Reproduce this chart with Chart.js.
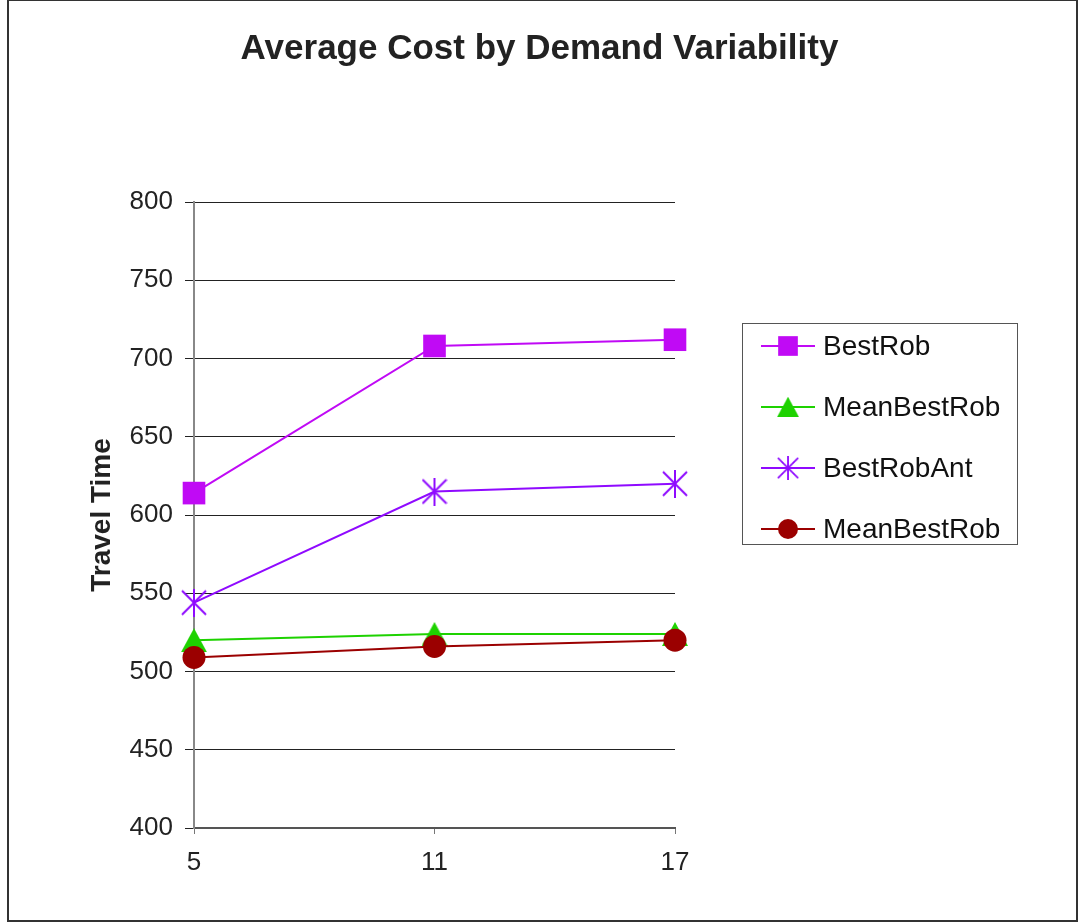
<!DOCTYPE html>
<html>
<head>
<meta charset="utf-8">
<script src="https://cdn.jsdelivr.net/npm/chart.js@4.4.1/dist/chart.umd.min.js"></script>
<style>
  html, body { margin: 0; padding: 0; background: #fff; }
  #wrap { position: relative; width: 1079px; height: 924px; }
  canvas { display: block; }
</style>
</head>
<body>
<div id="wrap"><canvas id="chart" width="1079" height="924"></canvas></div>
<script>
// Demand variability levels (x categories)
const categories = ['5', '11', '17'];

// Series names
const seriesNames = ['BestRob', 'MeanBestRob', 'BestRobAnt', 'MeanBestRob'];

// Average travel time per series
const bestRob          = [614, 708, 712];
const meanBestRobGreen = [520, 524, 524];
const bestRobAnt       = [544, 615, 620];
const meanBestRobRed   = [509, 516, 520];

// Value axis ticks
const yMin = 400;
const yMax = 800;
const yStep = 50;

const FONT = '"Liberation Sans", Arial, Helvetica, sans-serif';

const COLORS = {
  bestRob: '#C00AF5',
  meanGreen: '#1ED200',
  bestRobAnt: '#8F0AFF',
  meanRed: '#9B0000'
};

// Asterisk marker: two diagonals plus a vertical stroke
function makeStar(color, w, h, lw) {
  const c = document.createElement('canvas');
  c.width = w; c.height = h;
  const g = c.getContext('2d');
  g.strokeStyle = color;
  g.lineWidth = lw;
  const dy = (h - w) / 2;
  g.beginPath();
  g.moveTo(1, dy + 1); g.lineTo(w - 1, h - dy - 1);
  g.moveTo(w - 1, dy + 1); g.lineTo(1, h - dy - 1);
  g.moveTo(w / 2, 0); g.lineTo(w / 2, h);
  g.stroke();
  return c;
}

// Triangle marker centred on its bounding box
function makeTriangle(color, w, h) {
  const c = document.createElement('canvas');
  c.width = w; c.height = h;
  const g = c.getContext('2d');
  g.fillStyle = color;
  g.beginPath();
  g.moveTo(w / 2, 0);
  g.lineTo(w, h);
  g.lineTo(0, h);
  g.closePath();
  g.fill();
  return c;
}

const starMarker = makeStar(COLORS.bestRobAnt, 26, 28, 2);
const triMarker = makeTriangle(COLORS.meanGreen, 26, 24);

// White page with a thin frame around the whole chart
const framePlugin = {
  id: 'frame',
  beforeDraw(chart) {
    const ctx = chart.ctx;
    ctx.save();
    ctx.fillStyle = '#fff';
    ctx.fillRect(0, 0, chart.width, chart.height);
    ctx.strokeStyle = '#333';
    ctx.lineWidth = 2;
    ctx.strokeRect(8, 0, 1069, 921);
    ctx.restore();
  }
};

// Boxed legend to the right of the plot, each entry a short line with its marker
const boxLegendPlugin = {
  id: 'boxLegend',
  afterDraw(chart) {
    const ctx = chart.ctx;
    const box = { left: 742, top: 323, right: 1017, bottom: 544 };
    const rowH = 61;
    const firstY = 346;
    ctx.save();
    ctx.strokeStyle = '#555';
    ctx.lineWidth = 1;
    ctx.strokeRect(box.left + 0.5, box.top + 0.5, box.right - box.left, box.bottom - box.top);
    chart.data.datasets.forEach((ds, i) => {
      const y = firstY + i * rowH;
      ctx.strokeStyle = ds.borderColor;
      ctx.lineWidth = 2;
      ctx.beginPath();
      ctx.moveTo(761, y);
      ctx.lineTo(815, y);
      ctx.stroke();
      const mx = 788;
      if (ds.pointStyle instanceof HTMLCanvasElement) {
        const s = 0.85;
        const w = ds.pointStyle.width * s, h = ds.pointStyle.height * s;
        ctx.drawImage(ds.pointStyle, mx - w / 2, y - h / 2, w, h);
      } else {
        ctx.fillStyle = ds.backgroundColor;
        ctx.strokeStyle = ds.backgroundColor;
        Chart.helpers.drawPoint(ctx, {
          pointStyle: ds.pointStyle,
          radius: ds.pointRadius * 0.87,
          rotation: 0,
          borderWidth: 0
        }, mx, y);
      }
      ctx.fillStyle = '#111';
      ctx.font = '28px ' + FONT;
      ctx.textBaseline = 'middle';
      ctx.textAlign = 'left';
      ctx.fillText(ds.label, 823, y + 1);
    });
    ctx.restore();
  }
};

const datasets = [
  {
    label: seriesNames[0], data: bestRob,
    borderColor: COLORS.bestRob, backgroundColor: COLORS.bestRob,
    pointStyle: 'rect', pointRadius: 16, pointBorderWidth: 0, order: 0
  },
  {
    label: seriesNames[1], data: meanBestRobGreen,
    borderColor: COLORS.meanGreen, backgroundColor: COLORS.meanGreen,
    pointStyle: triMarker, pointRadius: 13, pointBorderWidth: 0, order: 2
  },
  {
    label: seriesNames[2], data: bestRobAnt,
    borderColor: COLORS.bestRobAnt, backgroundColor: COLORS.bestRobAnt,
    pointStyle: starMarker, pointRadius: 13, pointBorderWidth: 0, order: 1
  },
  {
    label: seriesNames[3], data: meanBestRobRed,
    borderColor: COLORS.meanRed, backgroundColor: COLORS.meanRed,
    pointStyle: 'circle', pointRadius: 11.5, pointBorderWidth: 0, order: -1
  }
].map(d => Object.assign({ borderWidth: 2, tension: 0, clip: false, fill: false }, d));

new Chart(document.getElementById('chart'), {
  type: 'line',
  data: { labels: categories, datasets },
  options: {
    responsive: false,
    devicePixelRatio: 1,
    animation: false,
    events: [],
    layout: { padding: { left: 0, right: 0, top: 0, bottom: 0 } },
    plugins: {
      legend: { display: false },
      tooltip: { enabled: false },
      title: {
        display: true,
        text: 'Average Cost by Demand Variability',
        color: '#222',
        font: { family: FONT, size: 35, weight: 'bold' },
        padding: { top: 28, bottom: 132 }
      }
    },
    scales: {
      x: {
        type: 'category',
        offset: false,
        grid: { drawOnChartArea: false, drawTicks: true, tickLength: 6, color: '#777', tickColor: '#777' },
        border: { display: true, color: '#555', width: 2 },
        ticks: { color: '#222', font: { family: FONT, size: 26 }, padding: 13, maxRotation: 0 },
        afterFit(scale) { scale.height = 96; }
      },
      y: {
        min: yMin, max: yMax,
        grid: { color: '#222', lineWidth: 1, tickLength: 9, tickColor: '#222' },
        border: { display: true, color: '#888', width: 2 },
        ticks: { stepSize: yStep, color: '#222', font: { family: FONT, size: 26 }, padding: 12 },
        title: {
          display: true, text: 'Travel Time', color: '#222',
          font: { family: FONT, size: 28, weight: 'bold' },
          padding: { top: 85, bottom: 0 }
        },
        afterFit(scale) { scale.width = 194; }
      },
      legendSpace: {
        position: 'right',
        display: true,
        grid: { display: false },
        border: { display: false },
        ticks: { display: false },
        afterFit(scale) { scale.width = 404; }
      }
    }
  },
  plugins: [framePlugin, boxLegendPlugin]
});
</script>
</body>
</html>
